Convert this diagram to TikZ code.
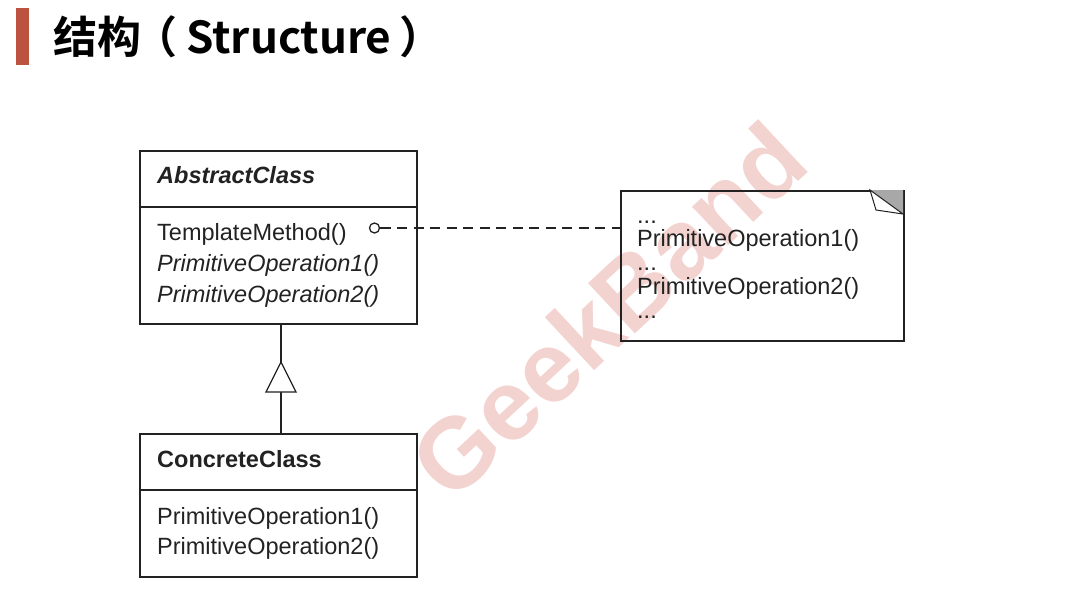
\documentclass[tikz,border=0pt]{standalone}
\usepackage{fontspec}
\setmainfont{Liberation Sans}
\newfontfamily\cjkbold{Noto Sans CJK SC Bold}
\usetikzlibrary{positioning}
\definecolor{titlebar}{HTML}{BB5340}
\definecolor{wm}{HTML}{F3D3CF}
\definecolor{ink}{HTML}{222222}
\definecolor{fold}{HTML}{A8A8A8}
\tikzset{
  umlbox/.style={draw=ink, line width=1.5pt, anchor=north west, inner sep=0pt},
  umltext/.style={anchor=base west, inner sep=0pt, text=ink, font=\fontsize{23.5}{24}\selectfont},
}
\begin{document}
\begin{tikzpicture}[x=1pt,y=-1pt]
\useasboundingbox (0,0) rectangle (1067,595);
% watermark
\node[text=wm, font=\fontsize{100}{100}\selectfont\bfseries, rotate=43] (wmark) at (608,310) {GeekBand};
% title
\fill[titlebar] (16,8) rectangle (29,65);
\node[anchor=west, inner sep=0pt, font=\cjkbold\fontsize{44}{44}\selectfont] (title) at (53,37) {结构\hspace{-8pt}（\hspace{9pt}Structure\hspace{8pt}）};
% abstract class
\node[umlbox, minimum width=277pt, minimum height=173pt] (abs) at (139,150) {};
\draw[ink, line width=1.5pt] (abs.west |- 0,207) -- (abs.east |- 0,207);
\node[umltext, font=\fontsize{23.5}{24}\selectfont\bfseries\itshape] (absname) at (157,183) {AbstractClass};
\node[umltext] (tm) at (157,240) {TemplateMethod()};
\node[umltext, font=\fontsize{23.5}{24}\selectfont\itshape] (po1) at (157,271) {PrimitiveOperation1()};
\node[umltext, font=\fontsize{23.5}{24}\selectfont\itshape] (po2) at (157,302) {PrimitiveOperation2()};
% concrete class
\node[umlbox, minimum width=277pt, minimum height=143pt] (conc) at (139,433) {};
\draw[ink, line width=1.5pt] (conc.west |- 0,490) -- (conc.east |- 0,490);
\node[umltext, font=\fontsize{23.5}{24}\selectfont\bfseries] (concname) at (157,467) {ConcreteClass};
\node[umltext] (cpo1) at (157,524) {PrimitiveOperation1()};
\node[umltext] (cpo2) at (157,554) {PrimitiveOperation2()};
% note
\node[umlbox, minimum width=283pt, minimum height=150pt] (note) at (620,190) {};
\fill[fold] (870,190) -- (903,190) -- (903,214) -- cycle;
\draw[ink, line width=1pt, fill=white] (870,190) -- (876,210) -- (903,214) -- cycle;
\node[anchor=north west, inner sep=0pt, align=left, text=ink, font=\fontsize{23.5}{23.75}\selectfont] (notetext) at (637,206)
  {\rule{0pt}{17pt}...\\PrimitiveOperation1()\\...\\PrimitiveOperation2()\\...};
% connectors
\coordinate (circ) at (374.5,228);
\draw[ink, line width=1.3pt] (circ) circle (5);
\draw[ink, line width=1.3pt] (379.5,228) -- (391,228);
\draw[ink, line width=1.3pt, dash pattern=on 10pt off 6.5pt] (397,228) -- (note.west |- circ);
% inheritance
\coordinate (inhx) at (281,0);
\coordinate (tritop) at (281,362);
\coordinate (tribase) at (281,392);
\draw[ink, line width=1.5pt] (inhx |- abs.south) -- (tritop);
\draw[ink, line width=1.5pt] (inhx |- conc.north) -- (tribase);
\draw[ink, line width=1.3pt, fill=white] (tritop) -- (296,392) -- (266,392) -- cycle;
\end{tikzpicture}
\end{document}
